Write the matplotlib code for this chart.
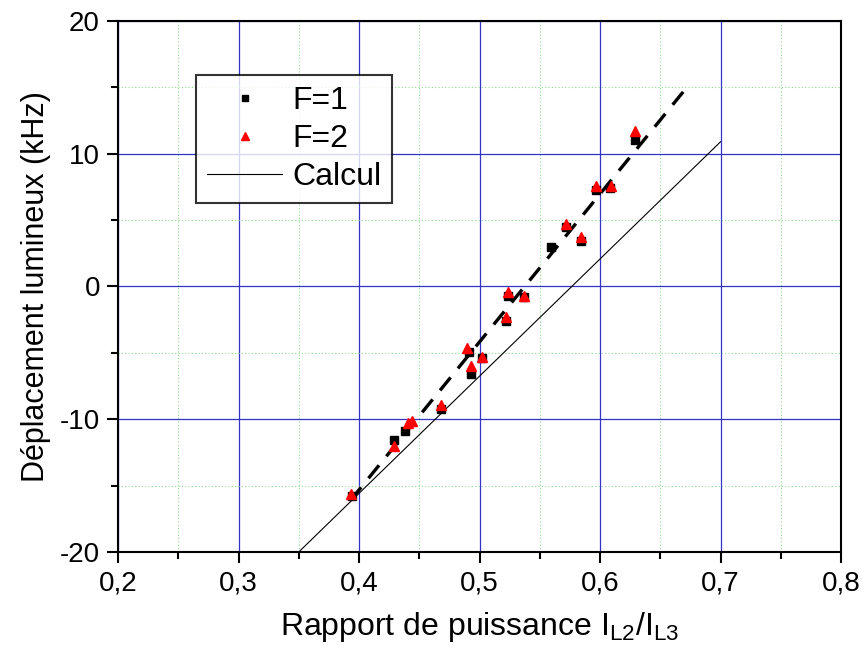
import numpy as np
import matplotlib
matplotlib.use("Agg")
import matplotlib.pyplot as plt
from matplotlib.ticker import MultipleLocator, FuncFormatter

plt.rcParams['font.family'] = ['Liberation Sans', 'DejaVu Sans']

# F=1 (black squares)
f1_x = [0.394, 0.429, 0.438, 0.468, 0.491, 0.493, 0.502, 0.522, 0.524, 0.537,
        0.559, 0.572, 0.584, 0.597, 0.608, 0.629]
f1_y = [-15.8, -11.6, -10.9, -9.25, -4.9, -6.6, -5.4, -2.6, -0.7, -0.8,
        3.0, 4.5, 3.45, 7.25, 7.4, 11.05]

# F=2 (red triangles)
f2_x = [0.393, 0.429, 0.441, 0.444, 0.468, 0.490, 0.493, 0.502, 0.522, 0.524,
        0.537, 0.572, 0.584, 0.597, 0.609, 0.629]
f2_y = [-15.6, -12.0, -10.3, -10.1, -8.9, -4.6, -6.0, -5.3, -2.3, -0.45,
        -0.7, 4.7, 3.7, 7.55, 7.55, 11.7]

# linear fit (dashed) and calculation (solid)
fit_x = [0.393, 0.669]
fit_y = [-16.1, 14.66]
calc_x = [0.35, 0.70]
calc_y = [-20.0, 10.9]

fig = plt.figure(figsize=(8.64, 6.64), dpi=100)
ax = fig.add_axes([0.1366, 0.1687, 0.8368, 0.7997])

ax.set_xlim(0.2, 0.8)
ax.set_ylim(-20, 20)
ax.xaxis.set_major_locator(MultipleLocator(0.1))
ax.xaxis.set_minor_locator(MultipleLocator(0.05))
ax.yaxis.set_major_locator(MultipleLocator(10))
ax.yaxis.set_minor_locator(MultipleLocator(5))
ax.xaxis.set_major_formatter(FuncFormatter(lambda v, p: f"{v:.1f}".replace(".", ",")))
ax.yaxis.set_major_formatter(FuncFormatter(lambda v, p: f"{v:.0f}"))

ax.grid(which='major', color='#3333cc', linewidth=0.9, linestyle='-')
ax.grid(which='minor', color='#88dd88', linewidth=0.8, linestyle=(0, (1, 2)))
ax.set_axisbelow(True)

ax.tick_params(which='major', direction='out', length=8, width=1.5, labelsize=20,
               top=False, right=False, pad=5)
ax.tick_params(which='minor', direction='out', length=5, width=1.5,
               top=False, right=False)
for s in ax.spines.values():
    s.set_linewidth(1.5)

ax.plot(fit_x, fit_y, color='black', linewidth=2.4, linestyle=(0, (5, 3.5)))
ax.plot(calc_x, calc_y, color='black', linewidth=0.8, label='Calcul')
ax.plot(f1_x, f1_y, 's', color='black', markersize=5.5, label='F=1', zorder=3)
ax.plot(f2_x, f2_y, '^', color='red', markersize=6.5, label='F=2', zorder=4)

handles, labels = ax.get_legend_handles_labels()
order = [1, 2, 0]
leg = ax.legend([handles[i] for i in order], [labels[i] for i in order],
                loc='upper left', bbox_to_anchor=(0.108, 0.898), fontsize=23,
                frameon=True, fancybox=False, edgecolor='black',
                handlelength=2.35, handletextpad=0.3, borderpad=0.35,
                labelspacing=0.25, borderaxespad=0, markerscale=0.8)
leg.get_frame().set_linewidth(1.5)

ax.set_xlabel(r"Rapport de puissance I$_{\mathregular{L2}}$/I$_{\mathregular{L3}}$",
              fontsize=23, labelpad=10)
ax.set_ylabel("Déplacement lumineux (kHz)", fontsize=22, labelpad=6)

fig.savefig("out.png", dpi=100)
